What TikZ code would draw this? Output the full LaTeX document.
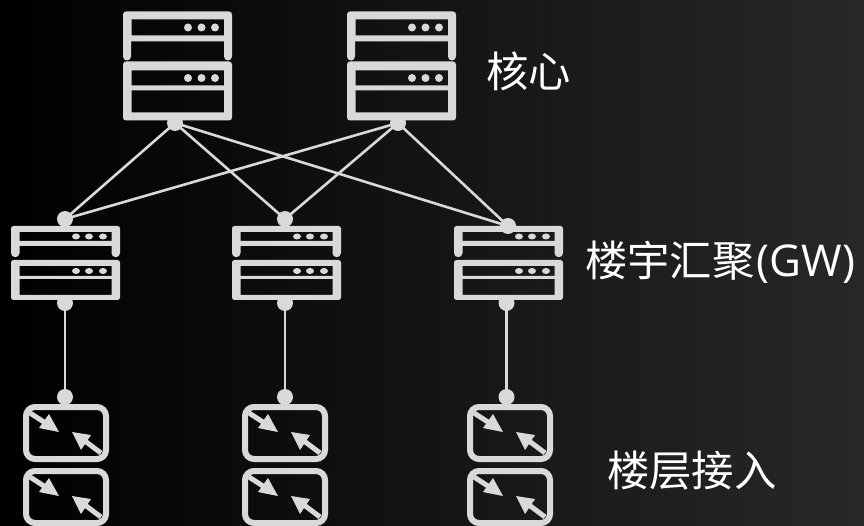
\documentclass[tikz,border=0pt]{standalone}
\usepackage{fontspec}
\newfontfamily\cjk{Noto Sans CJK SC}
\newfontfamily\latn{Open Sans}
\definecolor{gear}{HTML}{D9D9D9}
\definecolor{bgright}{HTML}{282828}
\tikzset{
  gearfill/.style={fill=gear,draw=none,even odd rule},
  joint/.style={circle,fill=gear,draw=none,inner sep=0pt,minimum size=16bp},
  link/.style={draw=gear,line width=2.6bp},
  lbl/.style={text=white,font=\cjk\fontsize{42.5}{42.5}\selectfont,inner sep=0pt,anchor=west},
}
\newcommand\coreunit[2]{%
  \begin{scope}[shift={(#1,#2)}]
    \fill[gearfill]
      (0,45) [rounded corners=3bp] -- (0,0) -- (109,0) [sharp corners] -- (109,45) -- (101,45) -- (101,30) -- (8,30) -- (8,45) -- cycle
      (8.5,8) rectangle (101,24);
    \fill[gear] (4,45) circle (4) (105,45) circle (4);
    \fill[gearfill]
      [rounded corners=3bp] (0,50) rectangle (109,109)
      [sharp corners] (8.5,59) rectangle (101,74)
      (8.5,79) rectangle (101,101);
    \foreach \xx in {65,78.5,92}{
      \fill[gear] (\xx,16) circle (4);
      \fill[gear] (\xx,66.5) circle (4);
    }
  \end{scope}}
\newcommand\midunit[2]{%
  \begin{scope}[shift={(#1,#2)}]
    \fill[gearfill]
      (0,27) [rounded corners=2.5bp] -- (0,0) -- (109,0) [sharp corners] -- (109,27) -- (100.5,27) -- (100.5,20) -- (8.5,20) -- (8.5,27) -- cycle
      (8.5,6) rectangle (100.5,15);
    \fill[gear] (4.25,27) circle (4.25) (104.75,27) circle (4.25);
    \fill[gearfill]
      [rounded corners=2.5bp] (0,34) rectangle (109,74)
      [sharp corners] (8.5,40) rectangle (100.5,50)
      (8.5,53) rectangle (100.5,69);
    \foreach \xx in {65,78,92}{
      \fill[gear] (\xx,10.5) ellipse (4 and 3);
      \fill[gear] (\xx,45) ellipse (4 and 3);
    }
  \end{scope}}
\newcommand\accessunit[2]{%
  \begin{scope}[shift={(#1,#2)}]
    \draw[gear,line width=6bp,rounded corners=9bp] (0,0) rectangle (80,52);
    \draw[gear,line width=5bp] (4,6) -- (21,17);
    \fill[gear] (23,7) -- (33,25) -- (13,21) -- cycle;
    \draw[gear,line width=5bp] (59,34) -- (75,46);
    \fill[gear] (46,25) -- (65,28) -- (55,43) -- cycle;
  \end{scope}}
\begin{document}
\begin{tikzpicture}[x=1bp,y=-1bp]
  \useasboundingbox (0,0) rectangle (864,526);
  \shade[left color=black,right color=bgright] (0,0) rectangle (864,526);

  \node[joint] (c1) at (175,123) {};
  \node[joint] (c2) at (398,123) {};
  \node[joint] (m1) at (65,219) {};
  \node[joint] (m2) at (285,219) {};
  \node[joint] (m3) at (508,226) {};
  \node[joint] (b1) at (65,303) {};
  \node[joint] (b2) at (285,303) {};
  \node[joint] (b3) at (506.5,303) {};
  \node[joint] (a1) at (65,397) {};
  \node[joint] (a2) at (285,397) {};
  \node[joint] (a3) at (506.5,397) {};

  \foreach \f/\t in {c1/m1,c1/m2,c1/m3,c2/m1,c2/m2,c2/m3,b1/a1,b2/a2,b3/a3}
    \draw[link] (\f.center) -- (\t.center);

  \coreunit{123}{11.5}
  \coreunit{347}{11.5}
  \midunit{11}{226}
  \midunit{232}{226}
  \midunit{454}{226}
  \accessunit{26}{407}
  \accessunit{26}{471}
  \accessunit{245}{407}
  \accessunit{245}{471}
  \accessunit{470}{407}
  \accessunit{470}{471}

  \node[lbl] (core) at (486,71) {核心};
  \node[lbl] (gw) at (585,262) {楼宇汇聚\hspace{2bp}{\latn\fontsize{44}{44}\selectfont (GW)}};
  \node[lbl] (floor) at (607,471) {楼层接入};
\end{tikzpicture}
\end{document}
